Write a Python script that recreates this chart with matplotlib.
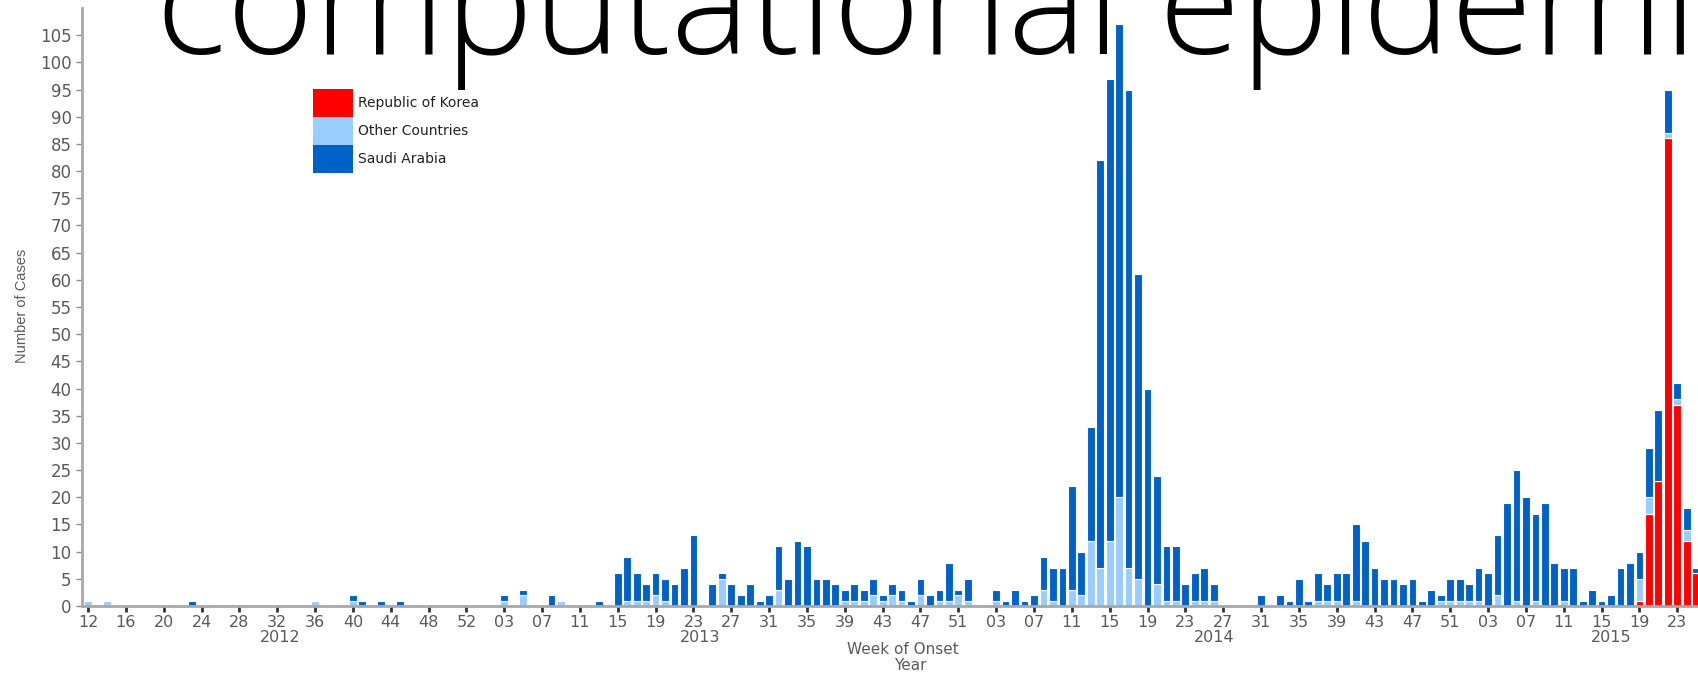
import matplotlib
matplotlib.use("Agg")
import matplotlib.pyplot as plt
from matplotlib.patches import Rectangle
import numpy as np

W, H = 1698, 675

# weeks of onset shown on the axis, per year
year_weeks = {2012: range(12, 54), 2013: range(1, 53),
              2014: range(1, 53), 2015: range(1, 26)}

# cases per week of onset {week: count}
saudi_2012 = {23: 1, 40: 1, 41: 1, 43: 1, 45: 1}
other_2012 = {12: 1, 14: 1, 36: 1, 40: 1}

saudi_2013 = {3: 1, 5: 1, 8: 2, 13: 1, 15: 6, 16: 8, 17: 5, 18: 3, 19: 4,
              20: 4, 21: 4, 22: 7, 23: 13, 25: 4, 26: 1, 27: 4, 28: 2,
              29: 4, 30: 1, 31: 2, 32: 8, 33: 5, 34: 12, 35: 11, 36: 5,
              37: 5, 38: 4, 39: 2, 40: 3, 41: 2, 42: 3, 43: 1, 44: 2,
              45: 2, 46: 1, 47: 3, 48: 2, 49: 2, 50: 7, 51: 1, 52: 4}
other_2013 = {3: 1, 5: 2, 9: 1, 16: 1, 17: 1, 18: 1, 19: 2, 20: 1, 26: 5,
              32: 3, 39: 1, 40: 1, 41: 1, 42: 2, 43: 1, 44: 2, 45: 1,
              47: 2, 49: 1, 50: 1, 51: 2, 52: 1}

saudi_2014 = {3: 2, 4: 1, 5: 3, 6: 1, 7: 2, 8: 6, 9: 6, 10: 7, 11: 19,
              12: 8, 13: 21, 14: 75, 15: 85, 16: 87, 17: 88, 18: 56,
              19: 40, 20: 20, 21: 10, 22: 10, 23: 4, 24: 5, 25: 6, 26: 3,
              31: 2, 33: 2, 34: 1, 35: 5, 36: 1, 37: 5, 38: 3, 39: 5,
              40: 6, 41: 14, 42: 12, 43: 7, 44: 5, 45: 5, 46: 4, 47: 5,
              48: 1, 49: 3, 50: 1, 51: 4, 52: 4}
other_2014 = {3: 1, 8: 3, 9: 1, 11: 3, 12: 2, 13: 12, 14: 7, 15: 12,
              16: 20, 17: 7, 18: 5, 20: 4, 21: 1, 22: 1, 24: 1, 25: 1,
              26: 1, 37: 1, 38: 1, 39: 1, 41: 1, 50: 1, 51: 1, 52: 1}

saudi_2015 = {1: 3, 2: 6, 3: 6, 4: 11, 5: 19, 6: 24, 7: 20, 8: 16, 9: 19,
              10: 8, 11: 6, 12: 7, 13: 1, 14: 3, 15: 1, 16: 2, 17: 7,
              18: 8, 19: 5, 20: 9, 21: 13, 22: 8, 23: 3, 24: 4, 25: 1}
other_2015 = {1: 1, 2: 1, 4: 2, 6: 1, 8: 1, 11: 1, 19: 4, 20: 3, 22: 1,
              23: 1, 24: 2}
korea_2015 = {19: 1, 20: 17, 21: 23, 22: 86, 23: 37, 24: 12, 25: 6}

saudi_by_year = {2012: saudi_2012, 2013: saudi_2013, 2014: saudi_2014, 2015: saudi_2015}
other_by_year = {2012: other_2012, 2013: other_2013, 2014: other_2014, 2015: other_2015}
korea_by_year = {2015: korea_2015}

series_labels = ["Republic of Korea", "Other Countries", "Saudi Arabia"]
RED, LIGHT, DARK = "#ff0000", "#99ccff", "#0062c8"
GREY_TXT = "#5a5a5a"

slots = [(y, w) for y, r in year_weeks.items() for w in r]
x = np.arange(len(slots))


def values(by_year):
    return np.array([by_year.get(y, {}).get(w, 0) for y, w in slots])


korea = values(korea_by_year)
other = values(other_by_year)
saudi = values(saudi_by_year)

fig = plt.figure(figsize=(W / 100, H / 100), dpi=100, facecolor="white")

# big overlaid banner text, behind the chart
fig.text(156 / W, 1 - 54 / H, "computational epidemiology", family="Open Sans",
         fontweight="light", fontsize=107, color="black", va="baseline",
         ha="left", zorder=-1)

ax = fig.add_axes([82 / W, 1 - 606 / H, (W - 82) / W, 598 / H])
ax.set_facecolor("none")

kw = dict(width=0.82, edgecolor="white", linewidth=0.8)
ax.bar(x, korea, color=RED, **kw)
ax.bar(x, other, bottom=korea, color=LIGHT, **kw)
ax.bar(x, saudi, bottom=korea + other, color=DARK, **kw)

px = 9.46  # pixels per week
ax.set_xlim(-6 / px, -6 / px + (W - 82) / px)
ax.set_ylim(0, 110)

ax.set_yticks(range(0, 106, 5))
tick_idx = x[::4]
ax.set_xticks(tick_idx)
ax.set_xticklabels([f"{slots[i][1]:02d}" for i in tick_idx])

for s in ["top", "right"]:
    ax.spines[s].set_visible(False)
for s in ["left", "bottom"]:
    ax.spines[s].set_color("#a8a8a8")
    ax.spines[s].set_linewidth(2)

ax.tick_params(axis="y", length=4.5, width=1, color="#8a8a8a", pad=3,
               labelsize=12, labelcolor=GREY_TXT)
ax.tick_params(axis="x", length=4.5, width=2, color="#333333", pad=2,
               labelsize=11.5, labelcolor=GREY_TXT)
for lab in ax.get_xticklabels() + ax.get_yticklabels():
    lab.set_family("DejaVu Sans")

# year labels under the week ticks
year_label_pos = [20.3, 64.7, 119.0, 161.0]
for pos, yr in zip(year_label_pos, year_weeks):
    ax.text(pos, -31 / 598, str(yr), transform=ax.get_xaxis_transform(),
            ha="center", va="center", fontsize=11.5, color=GREY_TXT,
            family="DejaVu Sans")

fig.text(903 / W, 1 - 650 / H, "Week of Onset", ha="center", va="center",
         fontsize=11, color=GREY_TXT, family="DejaVu Sans")
fig.text(910 / W, 1 - 666 / H, "Year", ha="center", va="center",
         fontsize=11, color=GREY_TXT, family="DejaVu Sans")
fig.text(22 / W, 1 - 306 / H, "Number of Cases", rotation=90, ha="center",
         va="center", fontsize=10.5, color=GREY_TXT, family="Liberation Sans")

# legend boxes
for k, (lab, col) in enumerate(zip(series_labels, [RED, LIGHT, DARK])):
    top = 89 + 28 * k
    fig.add_artist(Rectangle((313 / W, 1 - (top + 28) / H), 40 / W, 28 / H,
                             transform=fig.transFigure, facecolor=col,
                             edgecolor="none"))
    fig.text(358 / W, 1 - (top + 14) / H, lab, ha="left", va="center",
             fontsize=10, color="#222222", family="DejaVu Sans")

fig.savefig("out.png", dpi=100, facecolor="white")
